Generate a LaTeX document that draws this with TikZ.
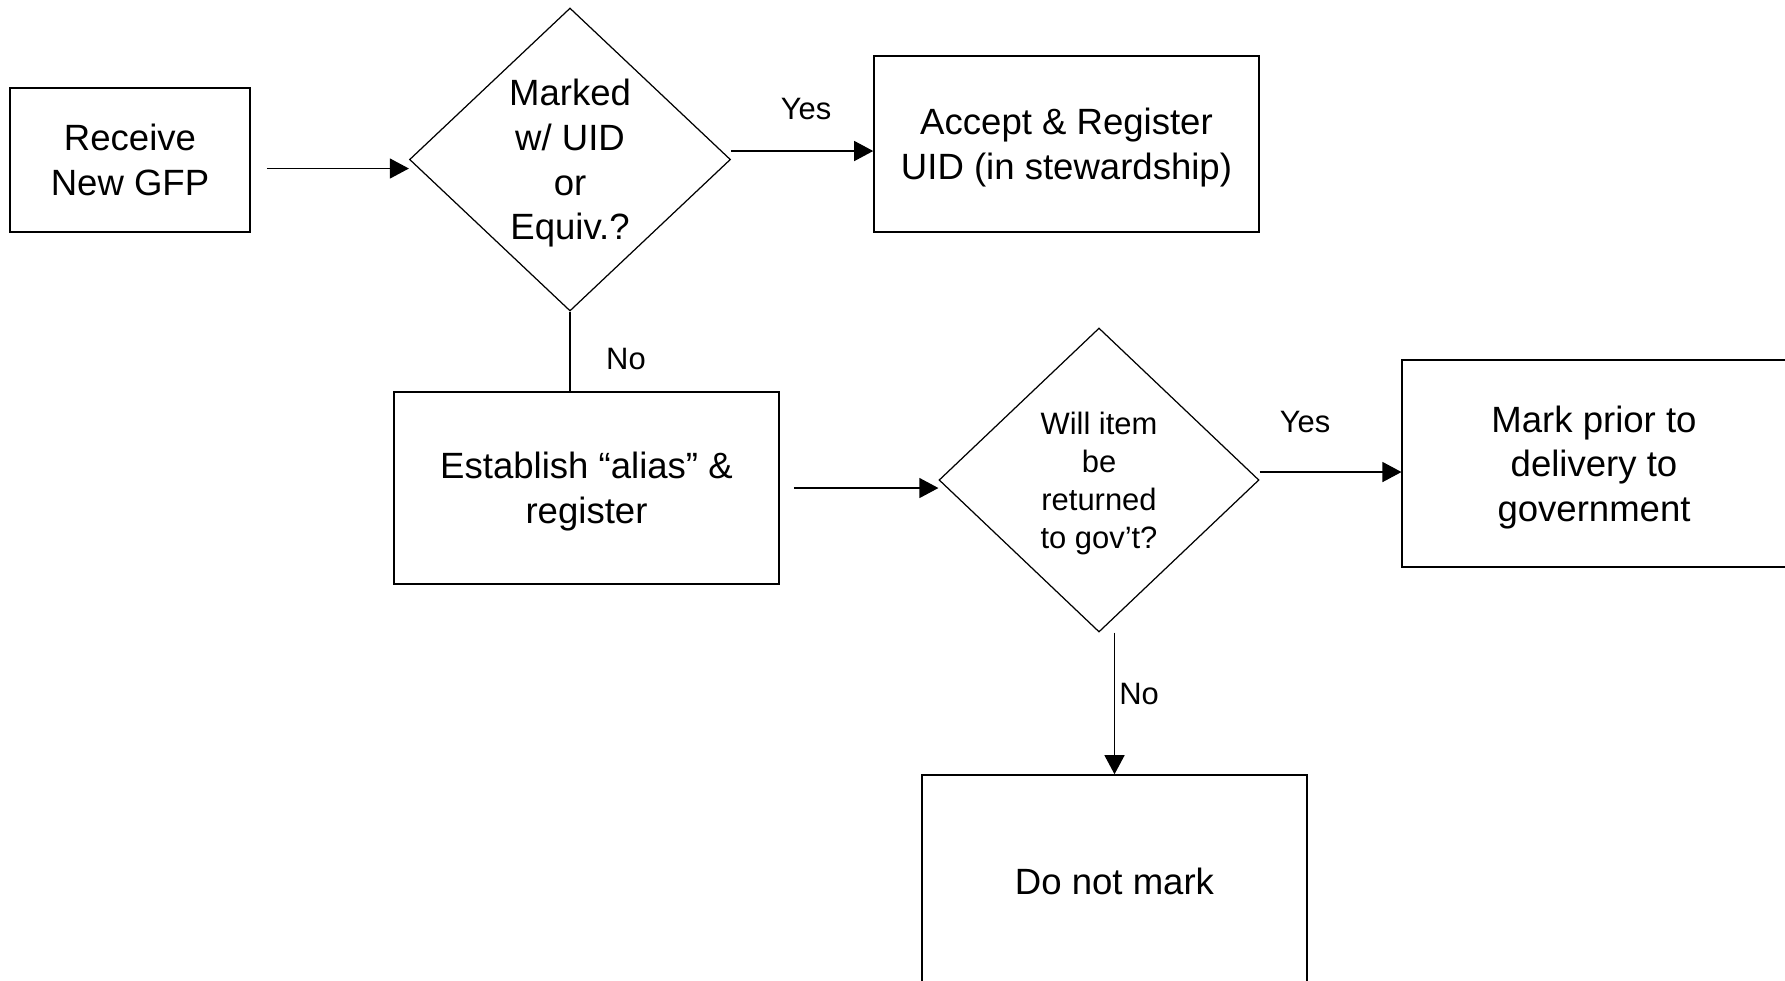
\documentclass[tikz,border=0pt]{standalone}
\usepackage{fontspec}
\setmainfont{Liberation Sans}
\usetikzlibrary{shapes.geometric,arrows.meta}

\begin{document}
\begin{tikzpicture}[line width=0.35pt,>={Triangle[length=0.19cm,width=0.2cm]},
          box node/.style={rectangle,draw,line width=0.45pt,align=center,inner sep=0pt,text depth=0pt,font=\fontsize{10.4}{12.7}\selectfont},
          test node/.style={diamond,draw,aspect=1,inner sep=0pt,text depth=0pt,align=center},
          label node/.style={inner sep=0pt,font=\fontsize{8.8}{10.8}\selectfont}]

          \useasboundingbox (0,0) rectangle (17.85,-9.80);

          \node[box node,minimum width=2.40cm,minimum height=1.44cm] (recv) at (1.30,-1.60) {Receive\\New GFP};
          \node[test node,minimum width=3.21cm,minimum height=3.03cm,font=\fontsize{10.4}{12.7}\selectfont] (mk) at (5.70,-1.595) {Marked\\w/ UID\\or\\Equiv.?};
          \node[box node,minimum width=3.85cm,minimum height=1.76cm] (acc) at (10.665,-1.44) {Accept \& Register\\UID (in stewardship)};
          \node[box node,minimum width=3.85cm,minimum height=1.92cm] (est) at (5.865,-4.88) {Establish “alias” \&\\register};
          \node[test node,minimum width=3.20cm,minimum height=3.04cm,font=\fontsize{8.8}{10.8}\selectfont] (ret) at (10.99,-4.80) {Will item\\be\\returned\\to gov’t?};
          \node[box node,minimum width=3.835cm,minimum height=2.07cm] (mark) at (15.94,-4.635) {Mark prior to\\delivery to\\government};
          \node[box node,minimum width=3.85cm,minimum height=2.12cm] (dnm) at (11.145,-8.81) {Do not mark};

          \node[label node] (yes1) at (8.06,-1.09) {Yes};
          \node[label node] (no1) at (6.26,-3.59) {No};
          \node[label node] (yes2) at (13.05,-4.22) {Yes};
          \node[label node] (no2) at (11.39,-6.94) {No};

          \draw[->] ([xshift=0.16cm,yshift=-0.085cm]recv.east) -- ([yshift=-0.085cm]recv.east -| mk.west);
          \draw[->] ([yshift=0.085cm]mk.east) -- ([yshift=0.085cm]mk.east -| acc.west);
          \draw (mk.south) -- (mk.south |- est.north);
          \draw[->] ([xshift=0.14cm]est.east) -- (est.east -| ret.west);
          \draw[->] ([yshift=0.08cm]ret.east) -- ([yshift=0.08cm]ret.east -| mark.west);
          \draw[->] (ret.south -| dnm.north) -- (dnm.north);

        \end{tikzpicture}
\end{document}
